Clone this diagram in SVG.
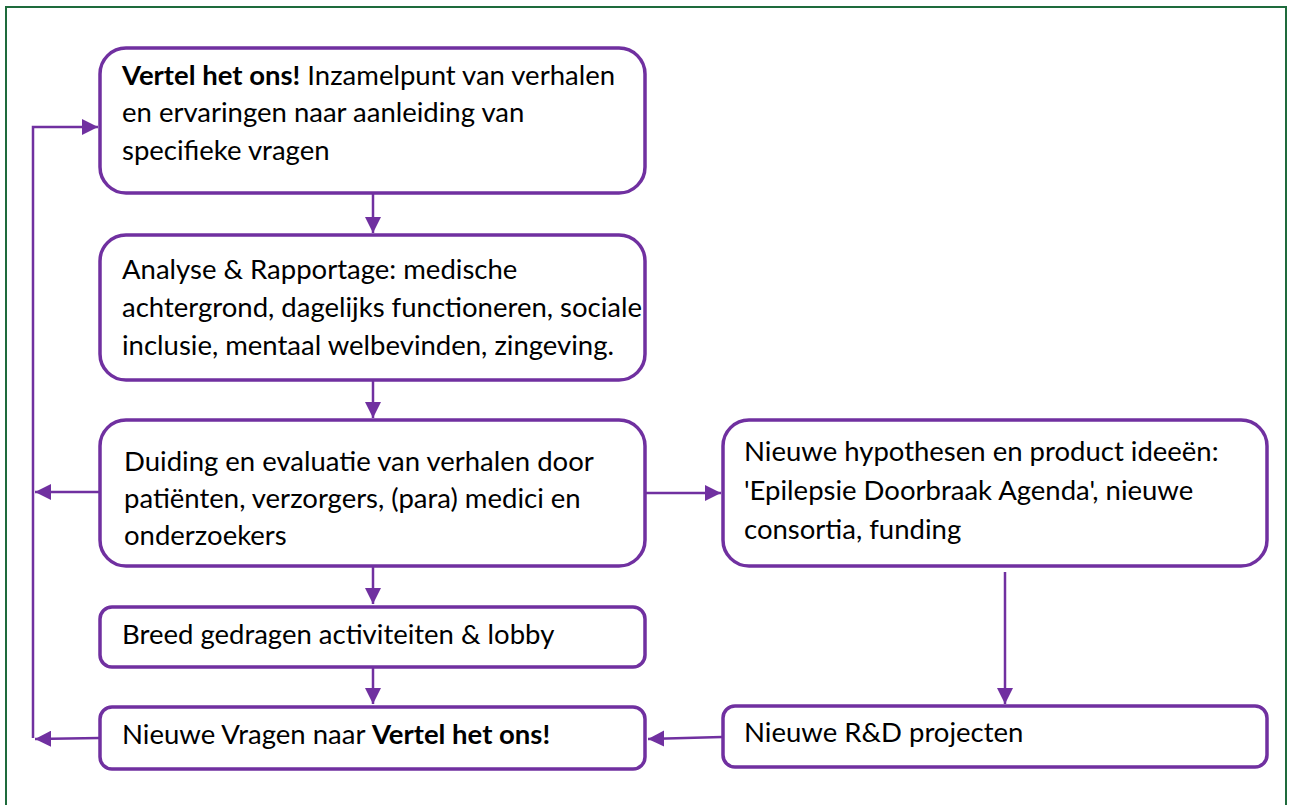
<svg xmlns="http://www.w3.org/2000/svg" width="1290" height="805" viewBox="0 0 1290 805">
<defs>
<style>
.box{fill:#fff;stroke:#7030A0;stroke-width:3.5}
.t{font-family:Lato,"Liberation Sans",sans-serif;font-size:27.5px;fill:#000}
.b{font-weight:bold}
.c{fill:none;stroke:#7030A0;stroke-width:2.5}
</style>
<marker id="ah" viewBox="0 0 10 10" refX="10" refY="5" markerWidth="6.5" markerHeight="6.5" orient="auto" markerUnits="strokeWidth">
<path d="M0,0 L10,5 L0,10 z" fill="#7030A0"/>
</marker>
</defs>
<rect x="0" y="0" width="1290" height="805" fill="#fff"/>
<rect x="6" y="7" width="1280" height="810" fill="none" stroke="#1E6B3C" stroke-width="2"/>

<g id="connectors">
<path class="c" d="M33,738 L33,127 L98,127" marker-end="url(#ah)"/>
<path class="c" d="M100,492 L35,492" marker-end="url(#ah)"/>
<path class="c" d="M100,738 L35,739" marker-end="url(#ah)"/>
<path class="c" d="M373,194 L373,233" marker-end="url(#ah)"/>
<path class="c" d="M373,381 L373,418" marker-end="url(#ah)"/>
<path class="c" d="M373,567 L373,604" marker-end="url(#ah)"/>
<path class="c" d="M373,668 L373,704" marker-end="url(#ah)"/>
<path class="c" d="M646,493 L721,493" marker-end="url(#ah)"/>
<path class="c" d="M1005,572 L1005,704" marker-end="url(#ah)"/>
<path class="c" d="M722,737 L648,739" marker-end="url(#ah)"/>
</g>

<g id="n1">
<rect class="box" x="100" y="48" width="545" height="145" rx="26"/>
<text class="t" x="122" y="85"><tspan class="b">Vertel het ons!</tspan> Inzamelpunt van verhalen</text>
<text class="t" x="122" y="122">en ervaringen naar aanleiding van</text>
<text class="t" x="122" y="160">specifieke vragen</text>
</g>
<g id="n2">
<rect class="box" x="100" y="235" width="545" height="145" rx="26"/>
<text class="t" x="122" y="279">Analyse &amp; Rapportage: medische</text>
<text class="t" x="122" y="317">achtergrond, dagelijks functioneren, sociale</text>
<text class="t" x="122" y="355">inclusie, mentaal welbevinden, zingeving.</text>
</g>
<g id="n3">
<rect class="box" x="100" y="420" width="545" height="146" rx="26"/>
<text class="t" x="124" y="471">Duiding en evaluatie van verhalen door</text>
<text class="t" x="124" y="508">patiënten, verzorgers, (para) medici en</text>
<text class="t" x="124" y="545">onderzoekers</text>
</g>
<g id="n4">
<rect class="box" x="100" y="607" width="545" height="60" rx="12"/>
<text class="t" x="122" y="644">Breed gedragen activiteiten &amp; lobby</text>
</g>
<g id="n5">
<rect class="box" x="100" y="707" width="545" height="62" rx="12"/>
<text class="t" x="122" y="744">Nieuwe Vragen naar <tspan class="b">Vertel het ons!</tspan></text>
</g>
<g id="n6">
<rect class="box" x="723" y="420" width="544" height="146" rx="26"/>
<text class="t" x="744" y="461">Nieuwe hypothesen en product ideeën:</text>
<text class="t" x="744" y="500">'Epilepsie Doorbraak Agenda', nieuwe</text>
<text class="t" x="744" y="539">consortia, funding</text>
</g>
<g id="n7">
<rect class="box" x="723" y="706" width="544" height="61" rx="12"/>
<text class="t" x="744" y="742">Nieuwe R&amp;D projecten</text>
</g>
</svg>
